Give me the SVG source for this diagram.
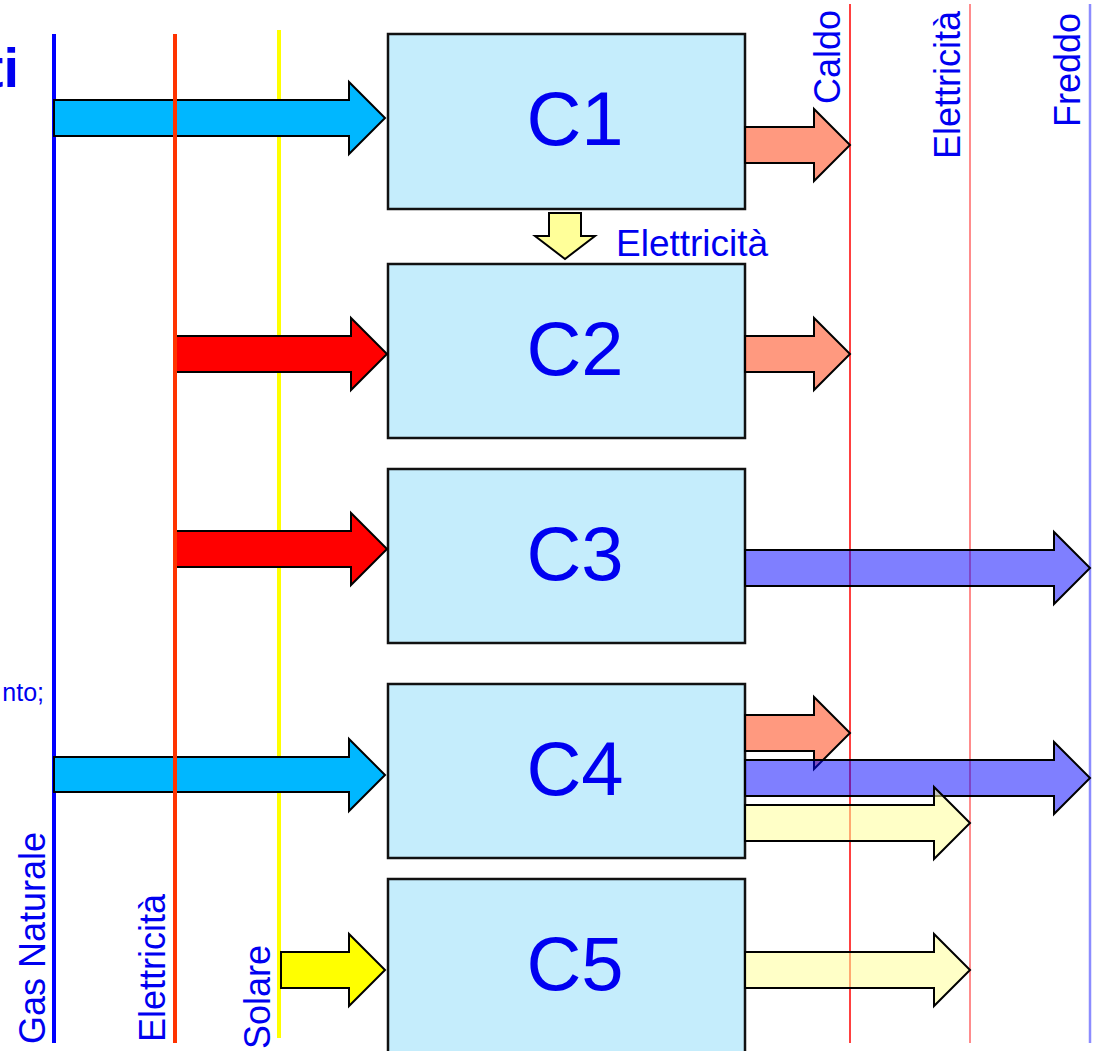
<svg xmlns="http://www.w3.org/2000/svg" width="1093" height="1051" viewBox="0 0 1093 1051">
<style>
.box{fill:#C5EDFC;stroke:#111;stroke-width:2.5}
.lbl{font-family:"Liberation Sans",Arial,sans-serif;fill:#0000F0}
.big{font-size:76px;text-anchor:middle}
.rot{font-size:36px}
.arr{stroke:#000;stroke-width:2;stroke-linejoin:miter}
.gas{fill:#00B7FF}
.ele{fill:#FF0000}
.sol{fill:#FFFF00}
.hot{fill:#FF3300;fill-opacity:0.5}
.cold{fill:#0000FF;fill-opacity:0.5}
.lel{fill:#FFFF99;fill-opacity:0.55}
</style>
<rect width="1093" height="1051" fill="#FFFFFF"/>
<g id="partial-text">
<text class="lbl" x="19" y="87" font-size="56" font-weight="bold" text-anchor="end">ti</text>
<text class="lbl" x="44" y="701" font-size="25" text-anchor="end">nto;</text>
</g>
<g id="right-lines">
<line x1="850" y1="4" x2="850" y2="1043" stroke="#FF4040" stroke-width="2"/>
<line x1="970" y1="4" x2="970" y2="1043" stroke="#FF8C8C" stroke-width="2"/>
<line x1="1090" y1="4" x2="1090" y2="1043" stroke="#8C8CFF" stroke-width="2.5"/>
</g>
<g id="source-lines-under">
<line x1="54" y1="34" x2="54" y2="1043" stroke="#0000FF" stroke-width="4"/>
<line x1="279" y1="30" x2="279" y2="1038" stroke="#FFFF00" stroke-width="4"/>
</g>
<g id="C1"><rect class="box" x="388" y="34" width="357" height="175"/><text class="lbl big" x="575" y="145">C1</text></g>
<g id="C2"><rect class="box" x="388" y="264" width="357" height="174"/><text class="lbl big" x="575" y="375">C2</text></g>
<g id="C3"><rect class="box" x="388" y="469" width="357" height="174"/><text class="lbl big" x="575" y="580">C3</text></g>
<g id="C4"><rect class="box" x="388" y="684" width="357" height="174"/><text class="lbl big" x="575" y="795">C4</text></g>
<g id="C5"><rect class="box" x="388" y="879" width="357" height="190"/><text class="lbl big" x="575" y="990">C5</text></g>
<g id="connectors">
<polygon class="arr gas" points="54,100 349,100 349,82 385,118 349,154 349,136 54,136"/>
<polygon class="arr ele" points="175,336 351,336 351,318 387,354 351,390 351,372 175,372"/>
<polygon class="arr ele" points="175,531 351,531 351,513 387,549 351,585 351,567 175,567"/>
<polygon class="arr gas" points="54,757 349,757 349,739 385,775 349,811 349,792 54,792"/>
<polygon class="arr sol" points="281,952 349,952 349,934 385,970 349,1006 349,988 281,988"/>
<polygon class="arr" fill="#FFFF99" points="549,213 581,213 581,236 595,236 565,259 535,236 549,236"/>
<polygon class="arr hot" points="745,127 814,127 814,109 850,145 814,181 814,163 745,163"/>
<polygon class="arr hot" points="745,336 814,336 814,318 850,354 814,390 814,372 745,372"/>
<polygon class="arr cold" points="745,550 1054,550 1054,532 1090,568 1054,604 1054,586 745,586"/>
<polygon class="arr hot" points="745,715 814,715 814,697 850,733 814,769 814,751 745,751"/>
<polygon class="arr cold" points="745,760 1054,760 1054,742 1090,778 1054,814 1054,796 745,796"/>
<polygon class="arr lel" points="745,805 934,805 934,787 970,823 934,859 934,841 745,841"/>
<polygon class="arr lel" points="745,952 934,952 934,934 970,970 934,1006 934,988 745,988"/>
</g>
<g id="source-lines-over">
<line x1="175" y1="34" x2="175" y2="1043" stroke="#FF3300" stroke-width="4"/>
</g>
<g id="labels">
<text class="lbl" x="616" y="256" font-size="37">Elettricità</text>
<text class="lbl rot" transform="translate(840,104) rotate(-90)">Caldo</text>
<text class="lbl rot" transform="translate(960,159) rotate(-90)">Elettricità</text>
<text class="lbl rot" transform="translate(1080,127) rotate(-90)">Freddo</text>
<text class="lbl rot" transform="translate(45,1044) rotate(-90)">Gas Naturale</text>
<text class="lbl rot" transform="translate(165,1042) rotate(-90)">Elettricità</text>
<text class="lbl rot" transform="translate(270,1049) rotate(-90)">Solare</text>
</g>
</svg>
